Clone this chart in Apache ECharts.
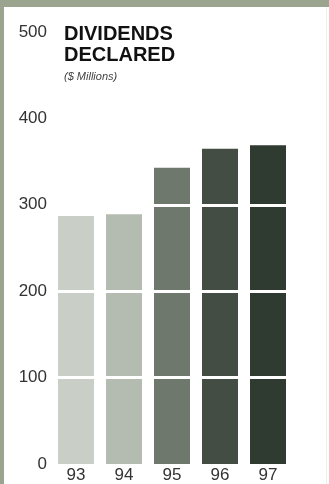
<!DOCTYPE html>
<html>
<head>
<meta charset="utf-8">
<style>
  html, body { margin: 0; padding: 0; background: #ffffff; }
  #chart { width: 329px; height: 484px; }
</style>
<script src="https://cdn.jsdelivr.net/npm/echarts@6/dist/echarts.min.js"></script>
</head>
<body>
<div id="chart"></div>
<script>
// Dividends declared, $ millions, by fiscal year
const years = ['93', '94', '95', '96', '97'];
const dividends = [287, 289, 343, 365, 369];
const barColors = ['#c9cec6', '#b4bbb1', '#6f786d', '#434d44', '#2f3a31'];
const yTicks = [0, 100, 200, 300, 400, 500];
const bandLines = [100, 200, 300];

const chart = echarts.init(document.getElementById('chart'), null, { renderer: 'canvas' });

const font = '"Liberation Sans", Arial, sans-serif';

chart.setOption({
  animation: false,
  backgroundColor: '#ffffff',
  graphic: [
    { type: 'rect', left: 0, top: 0, shape: { width: 329, height: 7 }, style: { fill: '#9aa48e' }, z: 10 },
    { type: 'rect', left: 0, top: 0, shape: { width: 4, height: 484 }, style: { fill: '#9aa48e' }, z: 10 },
    { type: 'rect', left: 326, top: 7, shape: { width: 1, height: 477 }, style: { fill: '#eef0ec' }, z: 10 }
  ],
  title: {
    text: 'DIVIDENDS\nDECLARED',
    subtext: '($ Millions)',
    left: 64,
    top: 24,
    itemGap: 5,
    padding: 0,
    textStyle: {
      fontFamily: font,
      fontWeight: 'bold',
      fontSize: 20,
      lineHeight: 21,
      color: '#111111'
    },
    subtextStyle: {
      fontFamily: font,
      fontStyle: 'italic',
      fontSize: 11,
      color: '#444444'
    }
  },
  grid: {
    left: 52,
    width: 240,
    top: 32,
    bottom: 18,
    containLabel: false
  },
  xAxis: {
    type: 'category',
    data: years,
    axisLine: { show: false },
    axisTick: { show: false },
    axisLabel: {
      fontFamily: font,
      fontSize: 17,
      color: '#333333',
      margin: 3
    }
  },
  yAxis: {
    type: 'value',
    min: yTicks[0],
    max: yTicks[yTicks.length - 1],
    interval: 100,
    axisLine: { show: false },
    axisTick: { show: false },
    splitLine: { show: false },
    axisLabel: {
      fontFamily: font,
      fontSize: 17,
      color: '#333333',
      margin: 5
    }
  },
  series: [{
    type: 'bar',
    data: dividends.map((v, i) => ({ value: v, itemStyle: { color: barColors[i] } })),
    barCategoryGap: '25%',
    markLine: {
      silent: true,
      symbol: 'none',
      label: { show: false },
      lineStyle: { color: '#ffffff', width: 3, type: 'solid' },
      data: bandLines.map(v => ({ yAxis: v }))
    }
  }]
});
</script>
</body>
</html>
